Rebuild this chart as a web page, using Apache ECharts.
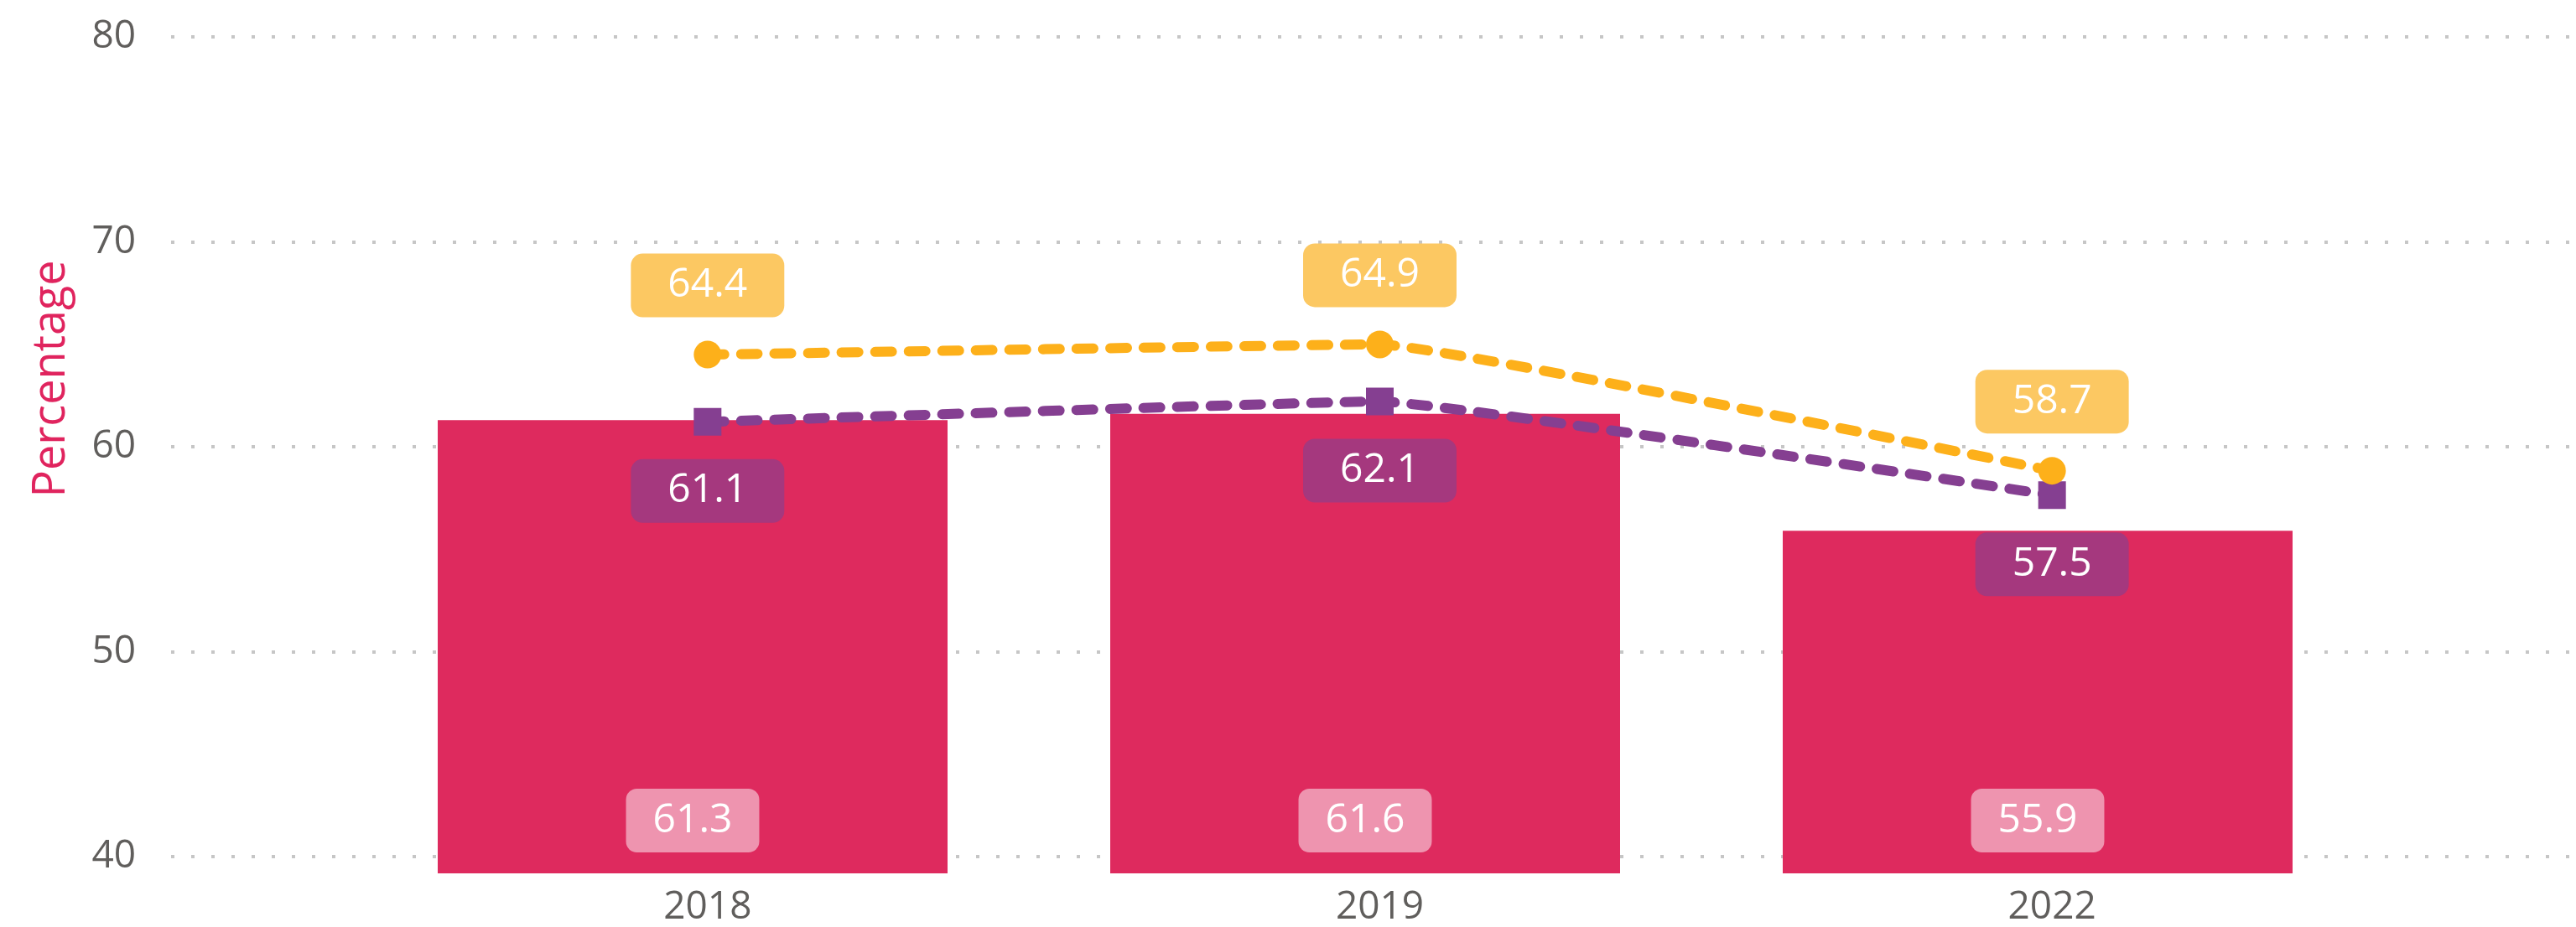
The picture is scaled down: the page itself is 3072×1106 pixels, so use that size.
<!DOCTYPE html>
<html>
<head>
<meta charset="utf-8">
<script src="https://cdn.jsdelivr.net/npm/echarts@6/dist/echarts.min.js"></script>
<style>
html,body{margin:0;padding:0;background:#fff;}
#chart{width:3072px;height:1106px;}
</style>
</head>
<body>
<div id="chart"></div>
<script>
const categories = ['2018', '2019', '2022'];
const barValues = [61.3, 61.6, 55.9];
const yellowValues = [64.4, 64.9, 58.7];
const purpleValues = [61.1, 62.1, 57.5];
const yTickMin = 40, yTickMax = 80, yTickStep = 10;
const dataMin = 39.18;
const yAxisTitle = 'Percentage';

const FONT = '"Open Sans", "Noto Sans", sans-serif';
const TICK_COLOR = '#605E5C';

const chart = echarts.init(document.getElementById('chart'), null, {renderer: 'canvas'});

const option = {
  backgroundColor: '#ffffff',
  animation: false,
  textStyle: {fontFamily: FONT},
  grid: [
    {left: 204, right: 8, top: 44, bottom: 84},
    {left: 443, right: 224, top: 44, bottom: 64},
    {left: 425, right: 241, top: 44, bottom: 64}
  ],
  xAxis: [
    {gridIndex: 0, type: 'value', show: false, min: 0, max: 1},
    {
      gridIndex: 1, type: 'category', data: categories,
      axisLine: {show: false}, axisTick: {show: false},
      axisLabel: {fontSize: 46, color: TICK_COLOR, margin: 24, fontFamily: FONT}
    },
    {gridIndex: 2, type: 'category', data: categories, show: false}
  ],
  yAxis: [
    {
      gridIndex: 0, type: 'value', min: yTickMin, max: yTickMax, interval: yTickStep,
      axisLine: {show: false}, axisTick: {show: false},
      axisLabel: {fontSize: 46, color: TICK_COLOR, margin: 42, fontFamily: FONT},
      splitLine: {show: true, lineStyle: {color: '#C6C6C6', width: 4, type: [4, 20]}}
    },
    {gridIndex: 1, type: 'value', min: dataMin, max: yTickMax, show: false},
    {gridIndex: 2, type: 'value', min: dataMin, max: yTickMax, show: false}
  ],
  graphic: [
    {
      type: 'text', x: 62, y: 452, rotation: Math.PI / 2,
      style: {
        text: yAxisTitle, fill: '#E0245E', fontSize: 54, fontFamily: FONT,
        align: 'center', verticalAlign: 'middle'
      }
    }
  ],
  series: [
    {
      name: 'Bar', type: 'bar', xAxisIndex: 2, yAxisIndex: 2,
      data: barValues, barWidth: 608, z: 1,
      itemStyle: {color: '#DE2A5E'},
      label: {
        show: true, position: 'insideBottom', distance: 25,
        color: '#ffffff', fontSize: 48, lineHeight: 58, fontFamily: FONT,
        backgroundColor: '#EE94AF', borderRadius: 13, padding: [9, 32]
      }
    },
    {
      name: 'Yellow', type: 'line', xAxisIndex: 1, yAxisIndex: 1,
      data: yellowValues, z: 4, smooth: 0.08,
      symbol: 'circle', symbolSize: 33,
      itemStyle: {color: '#FDB01A'},
      lineStyle: {color: '#FDB01A', width: 12, type: [20, 20], cap: 'round'},
      label: {
        show: true, position: 'top', distance: 28,
        color: '#ffffff', fontSize: 48, lineHeight: 58, fontFamily: FONT,
        backgroundColor: '#FCC862', borderRadius: 14, padding: [9, 44]
      }
    },
    {
      name: 'Purple', type: 'line', xAxisIndex: 1, yAxisIndex: 1,
      data: purpleValues, z: 3, smooth: 0.08,
      symbol: 'rect', symbolSize: 33,
      itemStyle: {color: '#853F91'},
      lineStyle: {color: '#853F91', width: 12, type: [20, 20], cap: 'round'},
      label: {
        show: true, position: 'bottom', distance: 28,
        color: '#ffffff', fontSize: 48, lineHeight: 58, fontFamily: FONT,
        backgroundColor: '#A5387E', borderRadius: 14, padding: [9, 44]
      }
    }
  ]
};
chart.setOption(option);
</script>
</body>
</html>
